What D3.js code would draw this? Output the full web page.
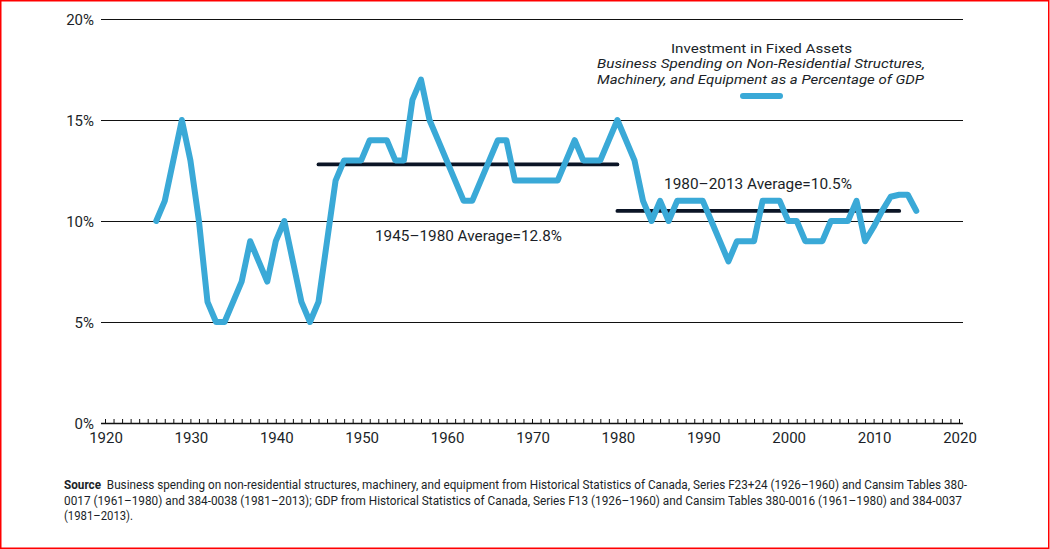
<!DOCTYPE html>
<html><head><meta charset="utf-8">
<script src="https://cdn.jsdelivr.net/npm/d3@7"></script>
<style>
html,body{margin:0;padding:0;background:#fff;}
svg{display:block;}
text{font-family:Roboto,"Noto Sans",sans-serif;fill:#1b1f28;}
</style></head>
<body>
<svg id="chart" width="1050" height="549"></svg>
<script>
const years = d3.range(1926, 2016);
const values = [
 10, 11, 13, 15, 13, 10, 6, 5, 5, 6,      // 1926-1935
 7, 9, 8, 7, 9, 10, 8, 6, 5, 6,           // 1936-1945
 9, 12, 13, 13, 13, 14, 14, 14, 13, 13,   // 1946-1955
 16, 17, 15, 14, 13, 12, 11, 11, 12, 13,  // 1956-1965
 14, 14, 12, 12, 12, 12, 12, 12, 13, 14,  // 1966-1975
 13, 13, 13, 14, 15, 14, 13, 11, 10, 11,  // 1976-1985
 10, 11, 11, 11, 11, 10, 9, 8, 9, 9,      // 1986-1995
 9, 11, 11, 11, 10, 10, 9, 9, 9, 10,      // 1996-2005
 10, 10, 11, 9, 9.7, 10.5, 11.2, 11.3, 11.3, 10.5 // 2006-2015
];
const averages = [
  {from:1945, to:1980, value:12.8, label:"1945–1980 Average=12.8%"},
  {from:1980, to:2013, value:10.5, label:"1980–2013 Average=10.5%"}
];
const yTicks = [0, 5, 10, 15, 20];
const xTicks = [1920, 1930, 1940, 1950, 1960, 1970, 1980, 1990, 2000, 2010, 2020];
const legendTitle = "Investment in Fixed Assets";
const legendSub = ["Business Spending on Non-Residential Structures,", "Machinery, and Equipment as a Percentage of GDP"];
const sourceLines = [
  ["Source", "  Business spending on non-residential structures, machinery, and equipment from Historical Statistics of Canada, Series F23+24 (1926–1960) and Cansim Tables 380-"],
  ["", "0017 (1961–1980) and 384-0038 (1981–2013); GDP from Historical Statistics of Canada, Series F13 (1926–1960) and Cansim Tables 380-0016 (1961–1980) and 384-0037"],
  ["", "(1981–2013)."]
];

const svg = d3.select("#chart");
const x = d3.scaleLinear().domain([1920, 2020]).range([105, 959]);
const y = d3.scaleLinear().domain([0, 20]).range([423, 19]);

// border
svg.append("rect").attr("x",0.75).attr("y",0.75).attr("width",1048).attr("height",547.5)
  .attr("fill","none").attr("stroke","#ff0000").attr("stroke-width",1.5);

// gridlines
svg.append("g").selectAll("line").data(yTicks.filter(d=>d>0)).join("line")
  .attr("x1",101).attr("x2",963).attr("y1",d=>y(d)+0.5).attr("y2",d=>y(d)+0.5)
  .attr("stroke","#111").attr("stroke-width",1.1);

// y labels
svg.append("g").selectAll("text").data(yTicks).join("text")
  .attr("x",94).attr("y",d=>y(d)+5.5).attr("text-anchor","end")
  .attr("font-size",15).text(d=>d+"%");

// x axis
const xAxis = d3.axisTop(x).tickValues(d3.range(1920, 2021)).tickSize(4).tickFormat("");
const gx = svg.append("g").attr("transform","translate(0,423)").call(xAxis);
gx.select(".domain").remove();
gx.selectAll(".tick line").attr("stroke","#111").attr("stroke-width",1);
svg.append("line").attr("x1",101).attr("x2",963).attr("y1",423.5).attr("y2",423.5)
  .attr("stroke","#111").attr("stroke-width",1.5);
svg.append("g").selectAll("text").data(xTicks).join("text")
  .attr("x",d=>x(d)+1).attr("y",443).attr("text-anchor","middle")
  .attr("font-size",15).text(d=>d);

// average lines
svg.append("g").selectAll("line").data(averages).join("line")
  .attr("x1",d=>x(d.from)).attr("x2",d=>x(d.to))
  .attr("y1",d=>y(d.value)).attr("y2",d=>y(d.value))
  .attr("stroke","#0b1526").attr("stroke-width",3.8).attr("stroke-linecap","round");

// data line
const line = d3.line().x((d,i)=>x(years[i])).y(d=>y(d));
svg.append("path").datum(values).attr("d",line)
  .attr("fill","none").attr("stroke","#3aa9d7").attr("stroke-width",6)
  .attr("stroke-linejoin","round").attr("stroke-linecap","round");

// average labels
svg.append("text").attr("x",375).attr("y",241).attr("font-size",15)
  .attr("textLength",187).attr("lengthAdjust","spacingAndGlyphs").text(averages[0].label);
svg.append("text").attr("x",664).attr("y",189).attr("font-size",15)
  .attr("textLength",188).attr("lengthAdjust","spacingAndGlyphs").text(averages[1].label);

// legend
svg.append("text").attr("x",671).attr("y",52.5).attr("font-size",13)
  .attr("textLength",181).attr("lengthAdjust","spacingAndGlyphs").text(legendTitle);
svg.append("text").attr("x",597).attr("y",68).attr("font-size",13).attr("font-style","italic")
  .attr("textLength",328).attr("lengthAdjust","spacingAndGlyphs").text(legendSub[0]);
svg.append("text").attr("x",597).attr("y",83.5).attr("font-size",13).attr("font-style","italic")
  .attr("textLength",327).attr("lengthAdjust","spacingAndGlyphs").text(legendSub[1]);
svg.append("line").attr("x1",743).attr("x2",780).attr("y1",96).attr("y2",96)
  .attr("stroke","#3aa9d7").attr("stroke-width",6).attr("stroke-linecap","round");

// source
const srcLens = [903, 898, 69];
sourceLines.forEach((ln,i)=>{
  const t = svg.append("text").attr("x",64).attr("y",489+i*15.5).attr("font-size",12)
    .attr("textLength",srcLens[i]).attr("lengthAdjust","spacingAndGlyphs");
  if (ln[0]) t.append("tspan").attr("font-weight","bold").text(ln[0]);
  t.append("tspan").attr("xml:space","preserve").text(ln[1]);
});
</script>
</body></html>
